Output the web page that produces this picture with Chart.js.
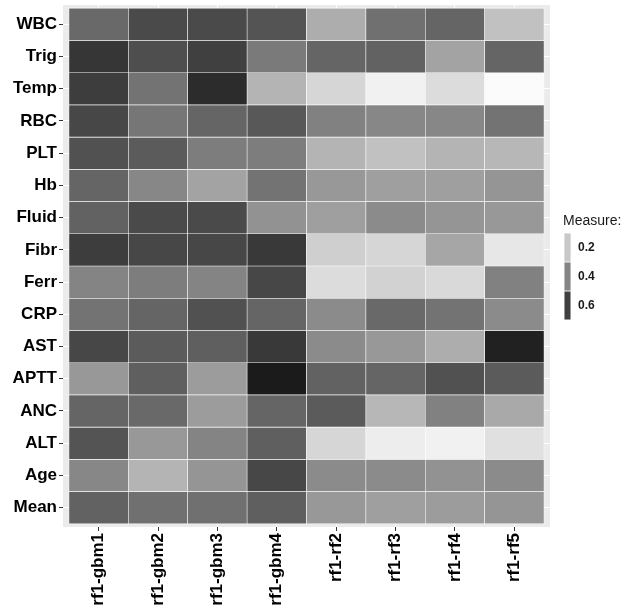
<!DOCTYPE html>
<html>
<head>
<meta charset="utf-8">
<script src="https://cdn.jsdelivr.net/npm/chart.js@4/dist/chart.umd.min.js"></script>
<style>
  html, body { margin: 0; padding: 0; background: #ffffff; }
  #wrap { width: 624px; height: 614px; }
</style>
</head>
<body>
<div id="wrap"><canvas id="c" width="624" height="614"></canvas></div>
<script>
// Columns (models) and rows (measures), top to bottom as shown
const columns = ['rf1-gbm1', 'rf1-gbm2', 'rf1-gbm3', 'rf1-gbm4', 'rf1-rf2', 'rf1-rf3', 'rf1-rf4', 'rf1-rf5'];
const rowLabels = ['WBC', 'Trig', 'Temp', 'RBC', 'PLT', 'Hb', 'Fluid', 'Fibr', 'Ferr', 'CRP', 'AST', 'APTT', 'ANC', 'ALT', 'Age', 'Mean'];

// Measure values per row (one value per column)
const WBC   = [0.48, 0.57, 0.57, 0.54, 0.28, 0.46, 0.49, 0.22];
const Trig  = [0.63, 0.56, 0.60, 0.43, 0.49, 0.50, 0.31, 0.49];
const Temp  = [0.61, 0.45, 0.66, 0.26, 0.16, 0.08, 0.14, 0.05];
const RBC   = [0.58, 0.44, 0.49, 0.53, 0.41, 0.39, 0.39, 0.45];
const PLT   = [0.55, 0.52, 0.42, 0.42, 0.26, 0.22, 0.26, 0.25];
const Hb    = [0.49, 0.39, 0.31, 0.45, 0.34, 0.32, 0.32, 0.35];
const Fluid = [0.50, 0.57, 0.57, 0.36, 0.32, 0.38, 0.35, 0.34];
const Fibr  = [0.61, 0.58, 0.58, 0.62, 0.18, 0.16, 0.30, 0.11];
const Ferr  = [0.40, 0.42, 0.40, 0.58, 0.14, 0.17, 0.15, 0.41];
const CRP   = [0.45, 0.49, 0.55, 0.49, 0.38, 0.48, 0.45, 0.38];
const AST   = [0.58, 0.52, 0.51, 0.62, 0.38, 0.34, 0.28, 0.69];
const APTT  = [0.34, 0.51, 0.33, 0.71, 0.50, 0.49, 0.55, 0.52];
const ANC   = [0.49, 0.48, 0.33, 0.49, 0.52, 0.25, 0.41, 0.29];
const ALT   = [0.54, 0.34, 0.40, 0.51, 0.16, 0.09, 0.08, 0.13];
const Age   = [0.39, 0.26, 0.35, 0.58, 0.38, 0.38, 0.36, 0.38];
const Mean  = [0.50, 0.46, 0.46, 0.51, 0.34, 0.32, 0.33, 0.35];

const rowValues = [WBC, Trig, Temp, RBC, PLT, Hb, Fluid, Fibr, Ferr, CRP, AST, APTT, ANC, ALT, Age, Mean];

// Legend breaks
const legendTitle = 'Measure:';
const legendBreaks = [0.2, 0.4, 0.6];

function shade(v) {
  const g = Math.max(0, Math.min(255, Math.round(268 - 340 * v)));
  return 'rgb(' + g + ',' + g + ',' + g + ')';
}

const datasets = rowLabels.map((name, r) => ({
  label: name,
  data: columns.map((c, j) => ({ x: j + 1, y: 1 })),
  backgroundColor: rowValues[r].map(shade),
  borderColor: '#ffffff',
  borderWidth: 0.6,
  borderSkipped: false,
  barPercentage: 1,
  categoryPercentage: 1
}));

const panelBg = {
  id: 'panelBg',
  beforeDraw(chart) {
    const a = chart.chartArea, ctx = chart.ctx;
    ctx.save();
    ctx.fillStyle = '#ebebeb';
    ctx.fillRect(a.left, a.top, a.right - a.left, a.bottom - a.top);
    ctx.restore();
  }
};

const sideLegend = {
  id: 'sideLegend',
  afterDraw(chart) {
    const ctx = chart.ctx;
    const x0 = chart.chartArea.right + 14;
    ctx.save();
    ctx.fillStyle = '#1a1a1a';
    ctx.font = '14px "Liberation Sans", Arial, sans-serif';
    ctx.textAlign = 'left';
    ctx.textBaseline = 'middle';
    ctx.fillText(legendTitle, x0 - 1, 221);
    const keyH = 29, keyTop = 233;
    legendBreaks.forEach((b, i) => {
      const y = keyTop + i * keyH;
      ctx.fillStyle = '#f2f2f2';
      ctx.fillRect(x0, y, 7, keyH);
      ctx.fillStyle = shade(b);
      ctx.fillRect(x0 + 0.5, y + 0.5, 6, keyH - 1);
      ctx.fillStyle = '#1a1a1a';
      ctx.font = 'bold 12px "Liberation Sans", Arial, sans-serif';
      ctx.fillText(b.toFixed(1), x0 + 14, y + keyH / 2);
    });
    ctx.restore();
  }
};

const tickFont = { family: '"Liberation Sans", Arial, sans-serif', size: 17, weight: 'bold' };

new Chart(document.getElementById('c'), {
  type: 'bar',
  data: { datasets },
  options: {
    responsive: false,
    animation: false,
    layout: { padding: { left: 0, right: 74, top: 5, bottom: 0 } },
    plugins: { legend: { display: false }, tooltip: { enabled: false } },
    scales: {
      x: {
        type: 'linear',
        stacked: true,
        offset: false,
        min: 0.4,
        max: 8.6,
        afterBuildTicks(scale) { scale.ticks = columns.map((c, j) => ({ value: j + 1 })); },
        afterFit(scale) { scale.height = 87; scale.paddingLeft = 0; scale.paddingRight = 0; },
        ticks: {
          autoSkip: false,
          minRotation: 90,
          maxRotation: 90,
          padding: 2,
          color: '#000000',
          font: tickFont,
          callback: (v) => columns[Math.round(v) - 1]
        },
        grid: { offset: false, color: '#ffffff', lineWidth: 1, tickColor: '#333333', tickLength: 4, drawTicks: true },
        border: { display: false }
      },
      y: {
        type: 'linear',
        stacked: true,
        reverse: true,
        min: -0.1,
        max: 16.1,
        afterBuildTicks(scale) { scale.ticks = rowLabels.map((n, i) => ({ value: i + 0.5 })); },
        afterFit(scale) { scale.width = 63; scale.paddingTop = 0; scale.paddingBottom = 0; },
        ticks: {
          autoSkip: false,
          padding: 2,
          color: '#000000',
          font: tickFont,
          callback: (v) => rowLabels[Math.round(v - 0.5)]
        },
        grid: { color: '#ffffff', lineWidth: 1, tickColor: '#333333', tickLength: 4, drawTicks: true },
        border: { display: false }
      }
    }
  },
  plugins: [panelBg, sideLegend]
});
</script>
</body>
</html>
